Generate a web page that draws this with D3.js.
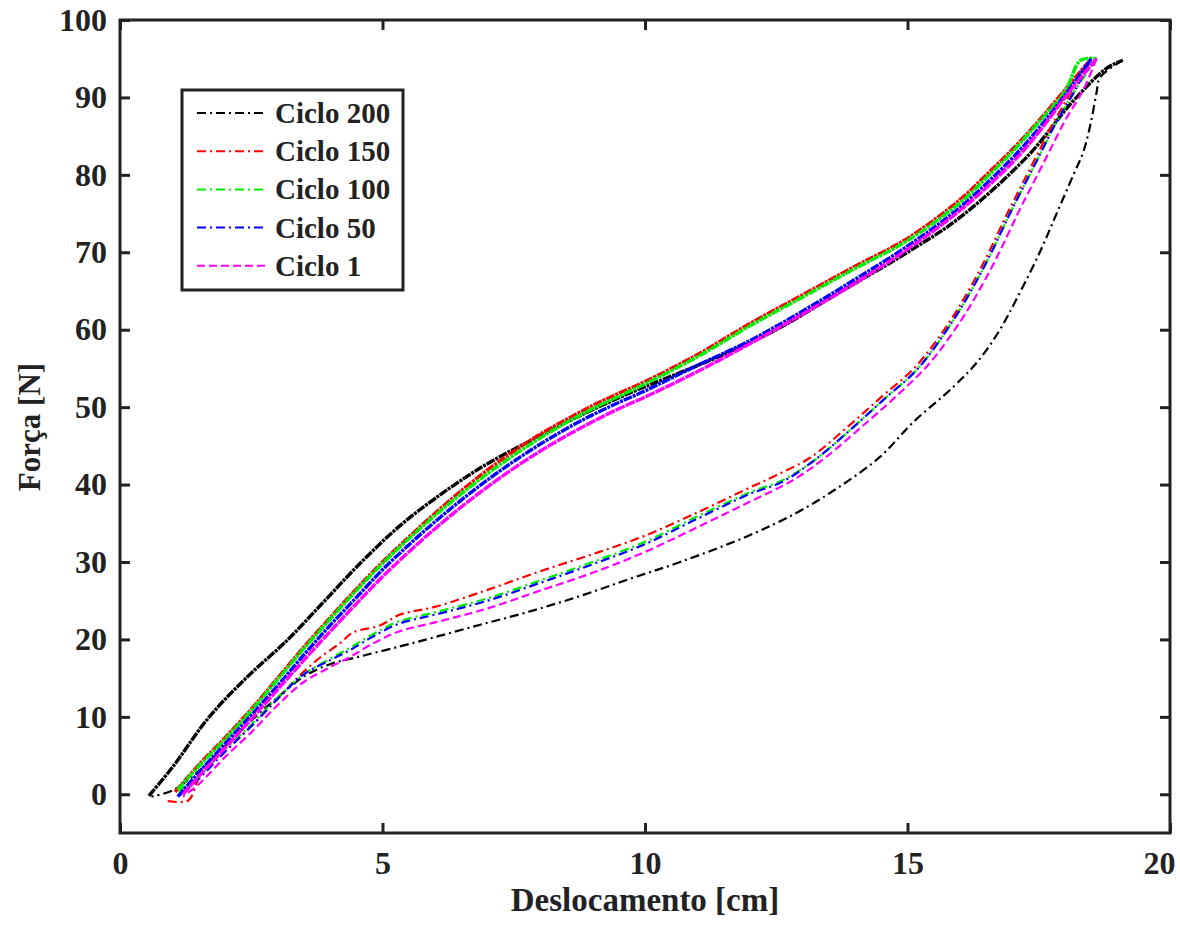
<!DOCTYPE html>
<html>
<head>
<meta charset="utf-8">
<script src="https://cdn.jsdelivr.net/npm/d3@7"></script>
<style>
    body { margin: 0; background: #fff; }
    svg text { font-family: "Liberation Serif", "Times New Roman", serif; font-weight: bold; fill: #222; }
</style>
</head>
<body>
<svg id="chart" width="1180" height="931"></svg>
<script>
// tick values
const xTicks = [0, 5, 10, 15, 20];
const yTicks = [0, 10, 20, 30, 40, 50, 60, 70, 80, 90, 100];

const cycleNames = ["Ciclo 200", "Ciclo 150", "Ciclo 100", "Ciclo 50", "Ciclo 1"];
const cycleColors = ["#000000", "#ff0000", "#00ee00", "#0000ff", "#ff00ff"];

// loading branch (force going up), [deslocamento, forca]
const load200 = [[0.55,-0.2],[1.0,3.5],[1.7,10],[2.4,15],[3.2,20],[3.9,25],[4.6,30],[5.3,34.5],[6.0,38.2],[6.9,42.3],[7.8,45.6],[8.7,48.7],[9.7,51.8],[10.5,54],[11.5,56.8],[12.5,60],[13.7,64.8],[15,70],[16,74.5],[17.3,82.5],[18.15,89.5],[18.8,93.8],[19.1,94.8]];
const load150 = [[1.05,0.3],[1.5,3.8],[2,7.3],[2.5,11],[3,15],[3.5,19],[4,22.8],[4.5,26.5],[5,30],[5.5,33.2],[6,36.3],[6.5,39.2],[7,41.9],[7.5,44.3],[8,46.5],[8.5,48.4],[9,50.2],[9.5,51.8],[10,53.3],[11,56.8],[12,60.8],[13,64.5],[14,68.2],[15,71.8],[16,76.8],[16.5,80],[17,83.3],[17.5,87],[18,91],[18.5,95]];
const load100 = [[1.1,0.6],[1.5,3.6],[2,7.1],[2.5,10.8],[3,14.8],[3.5,18.8],[4,22.6],[4.5,26.3],[5,29.8],[5.5,33],[6,36],[6.5,38.8],[7,41.4],[7.5,43.8],[8,46],[8.5,48],[9,49.8],[9.5,51.4],[10,53],[11,56.5],[12,60.5],[13,64.2],[14,67.9],[15,71.5],[16,76.4],[16.5,79.6],[17,83],[17.5,86.8],[18,90.8],[18.3,94.8],[18.6,95]];
const load50 = [[1.1,-0.3],[1.5,2.8],[2,6.5],[2.5,10.2],[3,14],[3.5,18],[4,21.8],[4.5,25.4],[5,29],[5.5,32.2],[6,35.2],[6.5,38],[7,40.6],[7.5,43],[8,45.2],[8.5,47.2],[9,49],[9.5,50.6],[10,52.1],[11,55.4],[12,58.6],[13,62.4],[14,66.5],[15,70.8],[16,75.8],[17,82.2],[17.5,86],[18,90.3],[18.5,95]];
const load1 = [[1.2,0],[1.5,2.3],[2,6],[2.5,9.7],[3,13.5],[3.5,17.3],[4,21],[4.5,24.6],[5,28.1],[5.5,31.3],[6,34.3],[6.5,37.1],[7,39.7],[7.5,42.1],[8,44.3],[8.5,46.3],[9,48.1],[9.5,49.8],[10,51.3],[11,54.6],[12,58.2],[13,62],[14,66],[15,70.4],[16,75.4],[17,81.6],[17.5,85.5],[18,90],[18.6,95]];

// unloading branch (force going down)
const unload200 = [[19.1,94.8],[18.67,92.6],[18.6,90.6],[18.5,87],[18.35,83],[18.16,80],[17.84,75],[17.52,70],[17.08,64],[16.76,60],[16.35,56],[15.87,52.6],[15.1,48],[14.48,43.6],[13.7,39.7],[12.9,36.4],[11.94,33.3],[10.67,30],[9.7,27.8],[8.76,25.6],[7.8,23.6],[6.86,21.9],[6.0,20.3],[5.33,19.1],[4.57,17.8],[4.0,16.8],[3.5,15.2],[3.0,12.5],[2.5,9.5],[2.0,6.2],[1.5,3],[1.0,0.5],[0.6,-0.3]];
const unload150 = [[18.5,95],[18.15,91],[17.8,87],[17.5,83],[17.2,79],[16.9,75],[16.55,70],[16.2,65.5],[15.8,61],[15.15,55.2],[14.5,51.3],[13.85,47.4],[13.15,43.5],[12.5,41.2],[11.9,39.3],[11,36.4],[10,33.4],[9,31],[8,28.8],[7,26.4],[6,24.2],[5.33,23.2],[4.95,21.8],[4.44,20.9],[4.19,19.5],[3.8,17.6],[3.4,15.2],[3,12.3],[2.5,8.8],[2,5.5],[1.5,2],[1.3,-0.8],[0.85,-0.8]];
const unload100 = [[18.6,95],[18.2,91],[17.85,87],[17.55,83],[17.25,79],[16.95,75],[16.6,70],[16.25,65.5],[15.85,61],[15.2,55],[14.55,51],[13.9,47],[13.2,43],[12.6,40.5],[12,39],[11,35.9],[10,32.6],[9,30],[8,27.6],[7,25.3],[6,23.5],[5.3,22.3],[4.8,20.6],[4.4,19],[4,17.5],[3.5,15.5],[3,12.5],[2.5,9],[2,5.8],[1.5,2.3],[1.1,0.4]];
const unload50 = [[18.5,95],[18.2,91],[17.85,87],[17.55,83],[17.25,79],[16.95,75],[16.6,70],[16.25,65.5],[15.85,61],[15.2,55],[14.55,51],[13.9,47],[13.2,43],[12.6,40.3],[12,38.8],[11,35.6],[10,32.3],[9,29.7],[8,27.3],[7,25],[6,23.2],[5.3,22],[4.8,20.3],[4.4,18.7],[4,17.3],[3.5,15.5],[3,12.3],[2.5,8.8],[2,5.5],[1.5,2],[1.1,-0.3]];
const unload1 = [[18.6,95],[18.35,91],[18.0,87],[17.7,83],[17.4,79],[17.1,75],[16.75,70],[16.4,65.5],[16.0,61],[15.4,55.5],[14.75,51.2],[14.1,47.3],[13.4,43.3],[12.8,40.5],[12,37.8],[11,34.5],[10,31.3],[9,28.6],[8,26.3],[7,24],[6,22.2],[5.3,21],[4.8,19.4],[4.4,17.8],[4,16.4],[3.5,14.5],[3,11.5],[2.5,8],[2,4.8],[1.5,1.3],[1.2,-0.3]];


class HysteresisPlot {

    constructor(svg_element_id) {
        this.svg = d3.select('#' + svg_element_id);
        this.margin = {left: 120, right: 1170, top: 20, bottom: 833};

        this.cycles = cycleNames.map((name, i) => ({
            name: name,
            color: cycleColors[i],
            load: [load200, load150, load100, load50, load1][i],
            unload: [unload200, unload150, unload100, unload50, unload1][i],
            dash: name === "Ciclo 1" ? "8,4" : "9,4,2,4",
        }));
    }

    draw() {
        const m = this.margin;
        const x = d3.scaleLinear().domain([0, 20]).range([m.left, m.right]);
        const y = d3.scaleLinear().domain([-5, 100]).range([m.bottom, m.top]);

        const line = d3.line()
            .x(d => x(d[0]))
            .y(d => y(d[1]))
            .curve(d3.curveCatmullRom);

        const curves = this.svg.append("g");

        this.cycles.forEach(c => {
            // the loading data is noisy in the original so it looks nearly solid
            curves.append("path")
                .attr("d", line(c.load))
                .attr("fill", "none")
                .attr("stroke", c.color)
                .attr("stroke-width", 3.4)
                .attr("stroke-dasharray", c.name === "Ciclo 1" ? "10,1" : "9,1,3,1");
            curves.append("path")
                .attr("d", line(c.unload))
                .attr("fill", "none")
                .attr("stroke", c.color)
                .attr("stroke-width", 2.2)
                .attr("stroke-dasharray", c.dash);
        });

        // axes, ticks inward on all four sides
        const tickStyle = g => {
            g.select(".domain").remove();
            g.selectAll(".tick line").attr("stroke", "#222").attr("stroke-width", 3);
            g.selectAll(".tick text")
                .attr("fill", "#222")
                .style("font-size", "32px");
        };

        this.svg.append("g")
            .attr("transform", `translate(0,${m.bottom})`)
            .call(d3.axisBottom(x).tickValues(xTicks).tickSizeInner(-10).tickSizeOuter(0).tickPadding(18))
            .call(tickStyle)
            .selectAll(".tick text")
            .filter(d => d === 20)
            .attr("dx", -11);

        this.svg.append("g")
            .attr("transform", `translate(${m.left},0)`)
            .call(d3.axisLeft(y).tickValues(yTicks).tickSizeInner(-10).tickSizeOuter(0).tickPadding(13))
            .call(tickStyle);

        this.svg.append("g")
            .attr("transform", `translate(0,${m.top})`)
            .call(d3.axisTop(x).tickValues(xTicks).tickSizeInner(-10).tickSizeOuter(0).tickFormat(""))
            .call(tickStyle);

        this.svg.append("g")
            .attr("transform", `translate(${m.right},0)`)
            .call(d3.axisRight(y).tickValues(yTicks).tickSizeInner(-10).tickSizeOuter(0).tickFormat(""))
            .call(tickStyle);

        this.svg.append("rect")
            .attr("x", m.left)
            .attr("y", m.top)
            .attr("width", m.right - m.left)
            .attr("height", m.bottom - m.top)
            .attr("fill", "none")
            .attr("stroke", "#222")
            .attr("stroke-width", 3);

        this.svg.append("text")
            .attr("x", (m.left + m.right) / 2)
            .attr("y", 911)
            .attr("text-anchor", "middle")
            .style("font-size", "33px")
            .text("Deslocamento [cm]");

        this.svg.append("text")
            .attr("transform", "translate(40,427) rotate(-90)")
            .attr("text-anchor", "middle")
            .style("font-size", "31px")
            .text("Força [N]");

        // legend
        const legend = this.svg.append("g");
        legend.append("rect")
            .attr("x", 182)
            .attr("y", 90)
            .attr("width", 221)
            .attr("height", 200)
            .attr("fill", "#fff")
            .attr("stroke", "#222")
            .attr("stroke-width", 3);

        this.cycles.forEach((c, i) => {
            const ry = 113 + i * 38.2;
            legend.append("line")
                .attr("x1", 197).attr("x2", 267)
                .attr("y1", ry).attr("y2", ry)
                .attr("stroke", c.color)
                .attr("stroke-width", 2)
                .attr("stroke-dasharray", c.dash);
            legend.append("text")
                .attr("x", 275)
                .attr("y", ry + 10)
                .style("font-size", "29px")
                .text(c.name);
        });
    }
}

function whenDocumentLoaded(action) {
    if (document.readyState === "loading") {
        document.addEventListener("DOMContentLoaded", action);
    } else {
        action();
    }
}

whenDocumentLoaded(() => {
    const plot_object = new HysteresisPlot('chart');
    plot_object.draw();
});
</script>
</body>
</html>
